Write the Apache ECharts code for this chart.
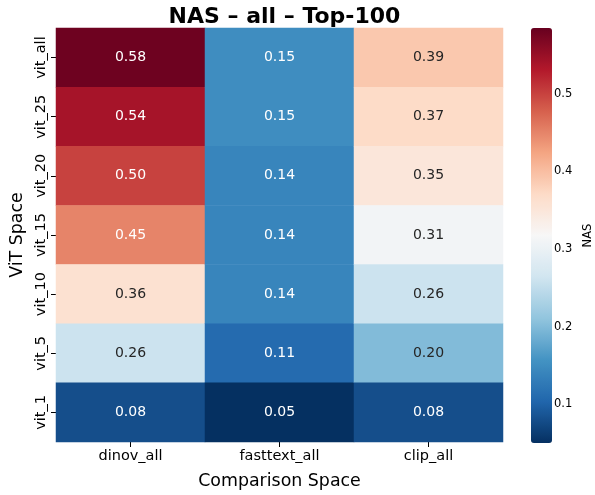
<!DOCTYPE html>
<html>
<head>
<meta charset="utf-8">
<style>
  html, body { margin: 0; padding: 0; background: #ffffff; }
  #chart { width: 595px; height: 495px; }
</style>
<script src="https://cdn.jsdelivr.net/npm/echarts@6/dist/echarts.min.js"></script>
</head>
<body>
<div id="chart"></div>
<script>
// Rows (top to bottom) and columns of the NAS matrix
const vitSpaces = ['vit_all', 'vit_25', 'vit_20', 'vit_15', 'vit_10', 'vit_5', 'vit_1'];
const comparisonSpaces = ['dinov_all', 'fasttext_all', 'clip_all'];

// NAS values per comparison space, in row order
const dinovAll    = [0.58, 0.54, 0.50, 0.45, 0.36, 0.26, 0.08];
const fasttextAll = [0.15, 0.15, 0.14, 0.14, 0.14, 0.11, 0.05];
const clipAll     = [0.39, 0.37, 0.35, 0.31, 0.26, 0.20, 0.08];

// Colour scale range and colour bar ticks
const scaleMin = 0.05;
const scaleMax = 0.585;
const colorbarTicks = [0.1, 0.2, 0.3, 0.4, 0.5];

// RdBu_r palette, low to high
const rdbuR = ['#053061', '#2166ac', '#4393c3', '#92c5de', '#d1e5f0', '#f7f7f7',
               '#fddbc7', '#f4a582', '#d6604d', '#b2182b', '#67001f'];

const FONT = 'DejaVu Sans';

function hexToRgb(h) {
  return [parseInt(h.slice(1, 3), 16), parseInt(h.slice(3, 5), 16), parseInt(h.slice(5, 7), 16)];
}
function colorAt(v) {
  let t = (v - scaleMin) / (scaleMax - scaleMin);
  t = Math.max(0, Math.min(1, t));
  const pos = t * (rdbuR.length - 1);
  const i = Math.min(Math.floor(pos), rdbuR.length - 2);
  const f = pos - i;
  const a = hexToRgb(rdbuR[i]), b = hexToRgb(rdbuR[i + 1]);
  return a.map((c, k) => c + (b[k] - c) * f);
}
function luminance(rgb) {
  const lin = rgb.map(c => {
    c = c / 255;
    return c <= 0.03928 ? c / 12.92 : Math.pow((c + 0.055) / 1.055, 2.4);
  });
  return 0.2126 * lin[0] + 0.7152 * lin[1] + 0.0722 * lin[2];
}

const columns = [dinovAll, fasttextAll, clipAll];
const cells = [];
columns.forEach((col, x) => {
  col.forEach((v, y) => {
    const textColor = luminance(colorAt(v)) > 0.408 ? '#262626' : '#ffffff';
    cells.push({ value: [x, y, v], label: { color: textColor } });
  });
});

const grid = { left: 56, top: 28, width: 447, height: 415 };
const bar = { left: 531, top: 28, width: 21, height: 415 };

const chart = echarts.init(document.getElementById('chart'), null, { renderer: 'canvas' });
chart.setOption({
  backgroundColor: '#ffffff',
  animation: false,
  textStyle: { fontFamily: FONT },
  title: {
    text: 'NAS – all – Top-100',
    left: grid.left + grid.width / 2,
    textAlign: 'center',
    top: 1,
    textStyle: { fontFamily: FONT, fontSize: 22, fontWeight: 'bold', color: '#000000' }
  },
  grid: [
    { left: grid.left, top: grid.top, width: grid.width, height: grid.height },
    { left: bar.left, top: bar.top, width: bar.width, height: bar.height }
  ],
  xAxis: [
    {
      type: 'category', gridIndex: 0, data: comparisonSpaces,
      name: 'Comparison Space', nameLocation: 'middle', nameGap: 31,
      nameTextStyle: { fontFamily: FONT, fontSize: 17.4, color: '#000000' },
      axisLine: { show: false },
      axisTick: { show: true, alignWithLabel: true, length: 5, lineStyle: { color: '#000000', width: 1 } },
      axisLabel: { fontFamily: FONT, fontSize: 14.5, color: '#000000', margin: 7 },
      splitLine: { show: false }, splitArea: { show: false }
    },
    { type: 'value', gridIndex: 1, show: false, min: 0, max: 1 }
  ],
  yAxis: [
    {
      type: 'category', gridIndex: 0, data: vitSpaces, inverse: true,
      name: 'ViT Space', nameLocation: 'middle', nameGap: 30, nameRotate: 90,
      nameTextStyle: { fontFamily: FONT, fontSize: 17.4, color: '#000000' },
      axisLine: { show: false },
      axisTick: { show: true, alignWithLabel: true, length: 5, lineStyle: { color: '#000000', width: 1 } },
      axisLabel: { fontFamily: FONT, fontSize: 14.5, color: '#000000', rotate: 90, margin: 7 },
      splitLine: { show: false }, splitArea: { show: false }
    },
    {
      type: 'value', gridIndex: 1, position: 'right', min: scaleMin, max: scaleMax,
      name: 'NAS', nameLocation: 'middle', nameGap: 36, nameRotate: 90,
      nameTextStyle: { fontFamily: FONT, fontSize: 11.5, color: '#000000' },
      axisLine: { show: false },
      axisTick: { show: true, length: 5, customValues: colorbarTicks, lineStyle: { color: '#000000', width: 1 } },
      axisLabel: {
        fontFamily: FONT, fontSize: 11.5, color: '#000000', margin: 8,
        customValues: colorbarTicks, formatter: v => v.toFixed(1)
      },
      splitLine: { show: false }
    }
  ],
  visualMap: {
    type: 'continuous', min: scaleMin, max: scaleMax, dimension: 2, seriesIndex: 0,
    calculable: false, hoverLink: false, realtime: false,
    orient: 'vertical', left: bar.left, top: bar.top, padding: 0,
    itemWidth: bar.width, itemHeight: bar.height,
    text: null, showLabel: false,
    inRange: { color: rdbuR }
  },
  series: [
    {
      type: 'heatmap', xAxisIndex: 0, yAxisIndex: 0, data: cells,
      label: {
        show: true, fontFamily: FONT, fontSize: 14,
        formatter: p => p.value[2].toFixed(2)
      },
      itemStyle: { borderWidth: 0 },
      emphasis: { disabled: true }
    },
    {
      type: 'line', xAxisIndex: 1, yAxisIndex: 1, data: [], silent: true
    }
  ]
});
</script>
</body>
</html>
